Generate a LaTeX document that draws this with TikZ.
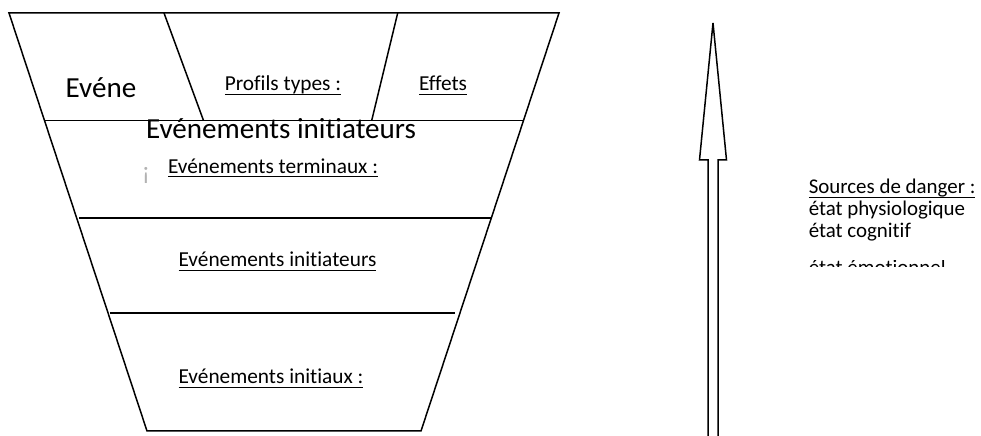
\documentclass[tikz,border=0pt]{standalone}
\usepackage{fontspec}
\setmainfont{Carlito}[Ligatures=NoCommon]
\newcommand\ulx[1]{\setbox0=\hbox{#1}\rlap{\rule[-4bp]{\wd0}{1.4bp}}\box0}
\begin{document}
\begin{tikzpicture}[x=1bp,y=-1bp,line width=1.5bp,
  outline/.style={draw=black,line join=miter},
  bigtxt/.style={font=\fontsize{29.2}{33}\selectfont,inner sep=0pt,anchor=base},
  smalltxt/.style={font=\fontsize{21.4}{24}\selectfont,inner sep=0pt,anchor=base},
  listtxt/.style={font=\fontsize{21}{22}\selectfont,inner sep=0pt,anchor=base west}]
\useasboundingbox (0,0) rectangle (981,436);

% funnel outline
\coordinate (TL) at (9,13);
\coordinate (TR) at (559,13);
\coordinate (BR) at (421,431);
\coordinate (BL) at (147,431);
\draw[outline] (TL) -- (TR) -- (BR) -- (BL) -- cycle;

% horizontal bands
\coordinate (b1l) at (44.5,120.5);  \coordinate (b1r) at (523.5,120.5);
\coordinate (b2l) at (79,218);      \coordinate (b2r) at (490.5,218);
\coordinate (b3l) at (110,313);     \coordinate (b3r) at (455,313);
\draw[outline] (b1l) -- (b1r);
\draw[outline] (b2l) -- (b2r);
\draw[outline] (b3l) -- (b3r);

% slanted dividers of the top band
\coordinate (d1t) at (164,13);   \coordinate (d1b) at (203.5,120.5);
\coordinate (d2t) at (397.7,13); \coordinate (d2b) at (371.7,120.5);
\draw[outline] (d1t) -- (d1b);
\draw[outline] (d2t) -- (d2b);

% labels inside the funnel
\node[bigtxt]   (evene)  at (101,98)    {Evéne};
\node[smalltxt] (profil) at (283,91)    {\ulx{Profils types :}};
\node[smalltxt] (effets) at (443,91)    {\ulx{Effets}};
\node[bigtxt]   (initbig) at (281,139)  {Evénements initiateurs};
\node[font=\fontsize{25}{28}\selectfont,inner sep=0pt,anchor=base,text=black!30] (mark) at (146,180) {¡};
\node[smalltxt] (term)   at (273,173.5) {\ulx{Evénements terminaux :}};
\node[smalltxt] (init)   at (277.5,267) {\ulx{Evénements initiateurs}};
\node[smalltxt] (initx)  at (271,384)   {\ulx{Evénements initiaux :}};

% block arrow pointing up
\coordinate (tip) at (713,23);
\coordinate (hl)  at (699.5,160);
\coordinate (hr)  at (726.5,160);
\coordinate (sl)  at (708,160);
\coordinate (sr)  at (718,160);
\coordinate (slb) at (708,436);
\coordinate (srb) at (718,436);
\draw[outline] (slb) -- (sl) -- (hl) -- (tip) -- (hr) -- (sr) -- (srb);

% list of hazard sources
\node[listtxt] (src) at (808,194) {\ulx{Sources de danger :}};
\node[listtxt] (phy) at (808,216) {état physiologique};
\node[listtxt] (cog) at (808,238) {état cognitif};
\begin{scope}
  \clip (800,261) rectangle (981,267);
  \node[listtxt] (emo) at (808,275) {état émotionnel};
\end{scope}
\end{tikzpicture}
\end{document}
